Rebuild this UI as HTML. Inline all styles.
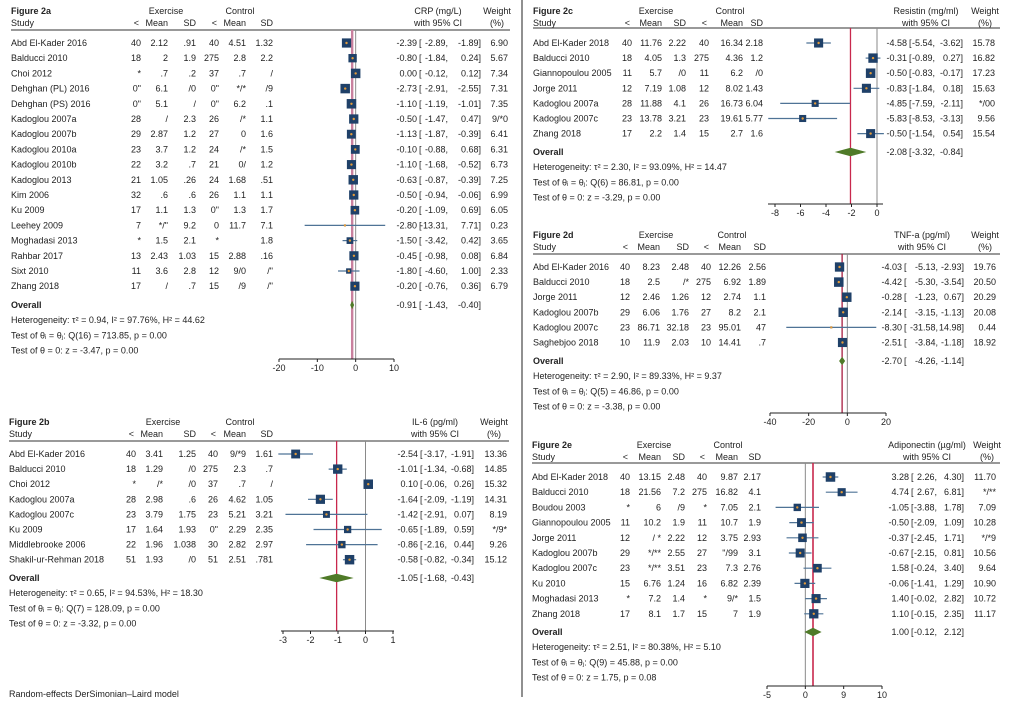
<!DOCTYPE html>
<html><head><meta charset="utf-8">
<style>
html,body{margin:0;padding:0;background:#fff;}
svg{display:block;font-family:"Liberation Sans",Arial,sans-serif;}
</style></head>
<body>
<svg id="chart" width="1013" height="705" viewBox="0 0 1013 705" xmlns="http://www.w3.org/2000/svg">
<line x1="522" y1="0" x2="522" y2="697" stroke="#222" stroke-width="1"/>
<text x="9" y="697" font-size="9" fill="#222">Random-effects DerSimonian–Laird model</text>
</svg>
<script>
// ---------- Figure 2a (CRP) ----------
const aStudies=["Abd El-Kader 2016","Balducci 2010","Choi 2012","Dehghan (PL) 2016","Dehghan (PS) 2016","Kadoglou 2007a","Kadoglou 2007b","Kadoglou 2010a","Kadoglou 2010b","Kadoglou 2013","Kim 2006","Ku 2009","Leehey 2009","Moghadasi 2013","Rahbar 2017","Sixt 2010","Zhang 2018"];
const aStats=[["40","2.12",".91","40","4.51","1.32"],["18","2","1.9","275","2.8","2.2"],["*",".7",".2","37",".7","/"],["0\"","6.1","/0","0\"","*/*","/9"],["0\"","5.1","/","0\"","6.2",".1"],["28","/","2.3","26","/*","1.1"],["29","2.87","1.2","27","0","1.6"],["23","3.7","1.2","24","/*","1.5"],["22","3.2",".7","21","0/","1.2"],["21","1.05",".26","24","1.68",".51"],["32",".6",".6","26","1.1","1.1"],["17","1.1","1.3","0\"","1.3","1.7"],["7","*/\"","9.2","0","11.7","7.1"],["*","1.5","2.1","*","","1.8"],["13","2.43","1.03","15","2.88",".16"],["11","3.6","2.8","12","9/0","/\""],["17","/",".7","15","/9","/\""]];
const aEst=[-2.39,-0.80,0.00,-2.73,-1.10,-0.50,-1.13,-0.10,-1.10,-0.63,-0.50,-0.20,-2.80,-1.50,-0.45,-1.80,-0.20];
const aLo=[-2.89,-1.84,-0.12,-2.91,-1.19,-1.47,-1.87,-0.88,-1.68,-0.87,-0.94,-1.09,-13.31,-3.42,-0.98,-4.60,-0.76];
const aHi=[-1.89,0.24,0.12,-2.55,-1.01,0.47,-0.39,0.68,-0.52,-0.39,-0.06,0.69,7.71,0.42,0.08,1.00,0.36];
const aWeight=[6.90,5.67,7.34,7.31,7.35,7.0,6.41,6.31,6.73,7.25,6.99,6.05,0.23,3.65,6.84,2.33,6.79];
const aWeightLabels=["6.90","5.67","7.34","7.31","7.35","9/*0","6.41","6.31","6.73","7.25","6.99","6.05","0.23","3.65","6.84","2.33","6.79"];
const aOverall=[-0.91,-1.43,-0.40];
const aTicks=[-20,-10,0,10];
const aTickLabels=["-20","-10","0","10"];
const aStatsText=["Heterogeneity: τ² = 0.94, I² = 97.76%, H² = 44.62","Test of θᵢ = θⱼ: Q(16) = 713.85, p = 0.00","Test of θ = 0: z = -3.47, p = 0.00"];

// ---------- Figure 2b (IL-6) ----------
const bStudies=["Abd El-Kader 2016","Balducci 2010","Choi 2012","Kadoglou 2007a","Kadoglou 2007c","Ku 2009","Middlebrooke 2006","Shakil-ur-Rehman 2018"];
const bStats=[["40","3.41","1.25","40","9/*9","1.61"],["18","1.29","/0","275","2.3",".7"],["*","/*","/0","37",".7","/"],["28","2.98",".6","26","4.62","1.05"],["23","3.79","1.75","23","5.21","3.21"],["17","1.64","1.93","0\"","2.29","2.35"],["22","1.96","1.038","30","2.82","2.97"],["51","1.93","/0","51","2.51",".781"]];
const bEst=[-2.54,-1.01,0.10,-1.64,-1.42,-0.65,-0.86,-0.58];
const bLo=[-3.17,-1.34,-0.06,-2.09,-2.91,-1.89,-2.16,-0.82];
const bHi=[-1.91,-0.68,0.26,-1.19,0.07,0.59,0.44,-0.34];
const bWeight=[13.36,14.85,15.32,14.31,8.19,9.0,9.26,15.12];
const bWeightLabels=["13.36","14.85","15.32","14.31","8.19","*/9*","9.26","15.12"];
const bOverall=[-1.05,-1.68,-0.43];
const bTicks=[-3,-2,-1,0,1];
const bTickLabels=["-3","-2","-1","0","1"];
const bStatsText=["Heterogeneity: τ² = 0.65, I² = 94.53%, H² = 18.30","Test of θᵢ = θⱼ: Q(7) = 128.09, p = 0.00","Test of θ = 0: z = -3.32, p = 0.00"];

// ---------- Figure 2c (Resistin) ----------
const cStudies=["Abd El-Kader 2018","Balducci 2010","Giannopoulou 2005","Jorge 2011","Kadoglou 2007a","Kadoglou 2007c","Zhang 2018"];
const cStats=[["40","11.76","2.22","40","16.34","2.18"],["18","4.05","1.3","275","4.36","1.2"],["11","5.7","/0","11","6.2","/0"],["12","7.19","1.08","12","8.02","1.43"],["28","11.88","4.1","26","16.73","6.04"],["23","13.78","3.21","23","19.61","5.77"],["17","2.2","1.4","15","2.7","1.6"]];
const cEst=[-4.58,-0.31,-0.50,-0.83,-4.85,-5.83,-0.50];
const cLo=[-5.54,-0.89,-0.83,-1.84,-7.59,-8.53,-1.54];
const cHi=[-3.62,0.27,-0.17,0.18,-2.11,-3.13,0.54];
const cWeight=[15.78,16.82,17.23,15.63,9.5,9.56,15.54];
const cWeightLabels=["15.78","16.82","17.23","15.63","*/00","9.56","15.54"];
const cOverall=[-2.08,-3.32,-0.84];
const cTicks=[-8,-6,-4,-2,0];
const cTickLabels=["-8","-6","-4","-2","0"];
const cStatsText=["Heterogeneity: τ² = 2.30, I² = 93.09%, H² = 14.47","Test of θᵢ = θⱼ: Q(6) = 86.81, p = 0.00","Test of θ = 0: z = -3.29, p = 0.00"];

// ---------- Figure 2d (TNF-a) ----------
const dStudies=["Abd El-Kader 2016","Balducci 2010","Jorge 2011","Kadoglou 2007b","Kadoglou 2007c","Saghebjoo 2018"];
const dStats=[["40","8.23","2.48","40","12.26","2.56"],["18","2.5","/*","275","6.92","1.89"],["12","2.46","1.26","12","2.74","1.1"],["29","6.06","1.76","27","8.2","2.1"],["23","86.71","32.18","23","95.01","47"],["10","11.9","2.03","10","14.41",".7"]];
const dEst=[-4.03,-4.42,-0.28,-2.14,-8.30,-2.51];
const dLo=[-5.13,-5.30,-1.23,-3.15,-31.58,-3.84];
const dHi=[-2.93,-3.54,0.67,-1.13,14.98,-1.18];
const dWeight=[19.76,20.50,20.29,20.08,0.44,18.92];
const dWeightLabels=["19.76","20.50","20.29","20.08","0.44","18.92"];
const dOverall=[-2.70,-4.26,-1.14];
const dTicks=[-40,-20,0,20];
const dTickLabels=["-40","-20","0","20"];
const dStatsText=["Heterogeneity: τ² = 2.90, I² = 89.33%, H² = 9.37","Test of θᵢ = θⱼ: Q(5) = 46.86, p = 0.00","Test of θ = 0: z = -3.38, p = 0.00"];

// ---------- Figure 2e (Adiponectin) ----------
const eStudies=["Abd El-Kader 2018","Balducci 2010","Boudou 2003","Giannopoulou 2005","Jorge 2011","Kadoglou 2007b","Kadoglou 2007c","Ku 2010","Moghadasi 2013","Zhang 2018"];
const eStats=[["40","13.15","2.48","40","9.87","2.17"],["18","21.56","7.2","275","16.82","4.1"],["*","6","/9","*","7.05","2.1"],["11","10.2","1.9","11","10.7","1.9"],["12","/ *","2.22","12","3.75","2.93"],["29","*/**","2.55","27","\"/99","3.1"],["23","*/**","3.51","23","7.3","2.76"],["15","6.76","1.24","16","6.82","2.39"],["*","7.2","1.4","*","9/*","1.5"],["17","8.1","1.7","15","7","1.9"]];
const eEst=[3.28,4.74,-1.05,-0.50,-0.37,-0.67,1.58,-0.06,1.40,1.10];
const eLo=[2.26,2.67,-3.88,-2.09,-2.45,-2.15,-0.24,-1.41,-0.02,-0.15];
const eHi=[4.30,6.81,1.78,1.09,1.71,0.81,3.40,1.29,2.82,2.35];
const eWeight=[11.70,8.5,7.09,10.28,9.5,10.56,9.64,10.90,10.72,11.17];
const eWeightLabels=["11.70","*/**","7.09","10.28","*/*9","10.56","9.64","10.90","10.72","11.17"];
const eOverall=[1.00,-0.12,2.12];
const eTicks=[-5,0,5,10];
const eTickLabels=["-5","0","9","10"];
const eStatsText=["Heterogeneity: τ² = 2.51, I² = 80.38%, H² = 5.10","Test of θᵢ = θⱼ: Q(9) = 45.88, p = 0.00","Test of θ = 0: z = 1.75, p = 0.08"];

const svg=document.getElementById('chart');
const NS='http://www.w3.org/2000/svg';
function mk(tag,attrs,parent){const e=document.createElementNS(NS,tag);for(const k in attrs)e.setAttribute(k,attrs[k]);(parent||svg).appendChild(e);return e;}
function txt(x,y,s,anchor,parent,bold){const t=mk('text',{x:x,y:y,'font-size':9,fill:'#222','text-anchor':anchor||'start','dominant-baseline':'central'},parent);if(bold)t.setAttribute('font-weight','bold');t.textContent=s;return t;}
function f2(v){return v.toFixed(2);}

function panel(cfg,studies,stats,est,lo,hi,wt,wtl,overall,ticks,tickLabels,statsText){
  const g=mk('g',{});
  
  
  const sx=v=>cfg.x0+(v-cfg.v0)*(cfg.x1-cfg.x0)/(cfg.v1-cfg.v0);
  const t1=txt(cfg.left,cfg.titleY,cfg.title,'start',g,true);
  
  
  const ex=txt(cfg.exX,cfg.titleY,'Exercise','middle',g);
  
  
  const co=txt(cfg.coX,cfg.titleY,'Control','middle',g);
  
  
  const eh=txt(cfg.effX,cfg.titleY,cfg.measure,'middle',g);
  
  
  txt(cfg.effX,cfg.hdrY,'with 95% CI','middle',g);
  const wh=txt(cfg.wX,cfg.titleY,'Weight','middle',g);
  
  
  txt(cfg.wX,cfg.hdrY,'(%)','middle',g);
  txt(cfg.left,cfg.hdrY,'Study','start',g);
  const hl=['<','Mean','SD','<','Mean','SD'];
  hl.forEach((h,i)=>txt(cfg.cols[i]+(h=='<'?-2:0),cfg.hdrY,h,'end',g));
  const hline=mk('line',{x1:cfg.left,x2:cfg.right,y1:cfg.lineY,y2:cfg.lineY,stroke:'#333','stroke-width':1},g);
  
  
  const zl=mk('line',{x1:sx(0),x2:sx(0),y1:cfg.lineY,y2:cfg.axisY,stroke:'#8a8a8a','stroke-width':1},g);
  
  
  const ol=mk('line',{x1:sx(overall[0]),x2:sx(overall[0]),y1:cfg.lineY,y2:cfg.axisY,stroke:cfg.redCol,'stroke-width':cfg.redW},g);
  
  
  const maxW=Math.max(...wt);
  studies.forEach((s,i)=>{
    const y=cfg.rowY+i*cfg.step;
    const r=mk('g',{},g);
    
    
    txt(cfg.left,y,s,'start',r);
    stats[i].forEach((v,j)=>txt(cfg.cols[j],y,v,'end',r));
    const ci=mk('line',{x1:sx(lo[i]),x2:sx(hi[i]),y1:y,y2:y,stroke:'#4f7396','stroke-width':1.2},r);
    
    
    const side=Math.max(2,cfg.box*Math.sqrt(wt[i]/maxW));
    const b=mk('rect',{x:sx(est[i])-side/2,y:y-side/2,width:side,height:side,fill:'#1f4068'},r);
    
    
    mk('circle',{cx:sx(est[i]),cy:y,r:1.2,fill:'#e39b3a'},r);
    txt(cfg.estR,y,f2(est[i]),'end',r);
    txt(cfg.estR+2,y,'[','start',r);
    txt(cfg.loR,y,f2(lo[i])+',','end',r);
    txt(cfg.hiR,y,f2(hi[i])+']','end',r);
    txt(cfg.wR,y,wtl[i],'end',r);
  });
  const oy=cfg.ovY;
  txt(cfg.left,oy,'Overall','start',g,true);
  const dh=4.2;
  const dm=mk('polygon',{points:[sx(overall[1])+','+oy,sx(overall[0])+','+(oy-dh),sx(overall[2])+','+oy,sx(overall[0])+','+(oy+dh)].join(' '),fill:'#4f7a28'},g);
  
  
  txt(cfg.estR,oy,f2(overall[0]),'end',g);
  txt(cfg.estR+2,oy,'[','start',g);
  txt(cfg.loR,oy,f2(overall[1])+',','end',g);
  txt(cfg.hiR,oy,f2(overall[2])+']','end',g);
  statsText.forEach((s,i)=>{
    const t=txt(cfg.left,oy+15.2*(i+1),s,'start',g);
    
    
  });
  const ax=mk('g',{},g);
  
  
  mk('line',{x1:cfg.axL,x2:cfg.axR,y1:cfg.axisY,y2:cfg.axisY,stroke:'#222','stroke-width':1},ax);
  ticks.forEach((t,i)=>{
    mk('line',{x1:sx(t),x2:sx(t),y1:cfg.axisY,y2:cfg.axisY+3,stroke:'#222','stroke-width':1},ax);
    const tl=txt(sx(t),cfg.axisY+9,tickLabels[i],'middle',ax);
    
    
  });
}

const common={step:15.2,box:9.5};
panel(Object.assign({},common,{name:'figure-2a-crp',title:'Figure 2a',measure:'CRP (mg/L)',left:11,right:510,titleY:11,hdrY:23,lineY:30,rowY:43,ovY:305,axisY:359,
  cols:[141,168,196,219,246,273],exX:166,coX:240,effX:438,wX:497,estR:417,loR:448,hiR:481,wR:508,
  x0:279,x1:394,v0:-20,v1:10,axL:279,axR:394,redCol:'#c9809e',redW:2.4}),
  aStudies,aStats,aEst,aLo,aHi,aWeight,aWeightLabels,aOverall,aTicks,aTickLabels,aStatsText);
panel(Object.assign({},common,{name:'figure-2b-il6',title:'Figure 2b',measure:'IL-6 (pg/ml)',left:9,right:509,titleY:422,hdrY:434,lineY:441,rowY:454,step:15.1,ovY:578,axisY:631,
  cols:[136,163,196,218,246,273],exX:163,coX:240,effX:435,wX:494,estR:418,loR:447,hiR:474,wR:507,
  x0:283,x1:393,v0:-3,v1:1,axL:281,axR:394,redCol:'#c8284d',redW:1.3}),
  bStudies,bStats,bEst,bLo,bHi,bWeight,bWeightLabels,bOverall,bTicks,bTickLabels,bStatsText);
panel(Object.assign({},common,{name:'figure-2c-resistin',title:'Figure 2c',measure:'Resistin (mg/ml)',left:533,right:1000,titleY:11,hdrY:23,lineY:28,rowY:43,step:15.1,ovY:152,axisY:204,
  cols:[632,662,686,709,743,763],exX:656,coX:730,effX:926,wX:985,estR:907,loR:935,hiR:963,wR:995,
  x0:775,x1:877,v0:-8,v1:0,axL:768,axR:883,redCol:'#c8284d',redW:1.3}),
  cStudies,cStats,cEst,cLo,cHi,cWeight,cWeightLabels,cOverall,cTicks,cTickLabels,cStatsText);
panel(Object.assign({},common,{name:'figure-2d-tnfa',title:'Figure 2d',measure:'TNF-a (pg/ml)',left:533,right:1000,titleY:235,hdrY:247,lineY:254,rowY:267,step:15.1,ovY:361,axisY:413,
  cols:[630,660,689,711,741,766],exX:656,coX:732,effX:922,wX:985,estR:902,loR:938,hiR:964,wR:996,
  x0:770,x1:886,v0:-40,v1:20,axL:770,axR:886,redCol:'#a81c40',redW:1.3}),
  dStudies,dStats,dEst,dLo,dHi,dWeight,dWeightLabels,dOverall,dTicks,dTickLabels,dStatsText);
panel(Object.assign({},common,{name:'figure-2e-adiponectin',title:'Figure 2e',measure:'Adiponectin (µg/ml)',left:532,right:1000,titleY:445,hdrY:457,lineY:463,rowY:477,ovY:632,axisY:686,
  cols:[630,661,685,707,738,761],exX:654,coX:728,effX:927,wX:987,estR:909,loR:937,hiR:964,wR:996,
  x0:767,x1:882,v0:-5,v1:10,axL:767,axR:882,redCol:'#c8284d',redW:1.6}),
  eStudies,eStats,eEst,eLo,eHi,eWeight,eWeightLabels,eOverall,eTicks,eTickLabels,eStatsText);
</script>
</body></html>
